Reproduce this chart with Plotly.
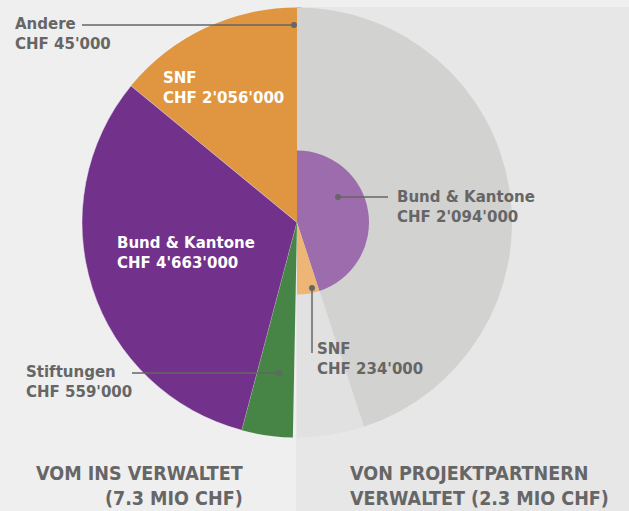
import plotly.graph_objects as go

# canvas
W, H = 629, 511

# left half: managed by INS (CHF)
ins_labels = ["Andere", "SNF", "Bund & Kantone", "Stiftungen"]
ins_values = [45000, 2056000, 4663000, 559000]
ins_colors = ["#ea5c62", "#e09540", "#72318a", "#468545"]

# right half: managed by project partners (CHF)
partner_labels = ["Bund & Kantone", "SNF"]
partner_values = [2094000, 234000]
partner_colors = ["#9c6cac", "#edb677"]
ghost_colors = ["#d2d2d1", "#e1e1e1"]

CLEAR = "rgba(0,0,0,0)"
GREY_TXT = "#666666"


def px(x):
    return x / W


def py(y):
    return 1 - y / H


def fmt_chf(v):
    return "CHF " + f"{v:,}".replace(",", "'")


# pie geometry in pixels (centre + radius)
cx, cy, r_big, r_small = 297, 222.5, 215, 72


def domain(r):
    return dict(x=[px(cx - r), px(cx + r)], y=[py(cy + r), py(cy - r)])


fig = go.Figure()

# 1. left half pie - the other half is an invisible filler slice
ins_total = sum(ins_values)
fig.add_trace(
    go.Pie(
        labels=ins_labels + ["_fill"],
        values=ins_values + [ins_total],
        marker=dict(
            colors=ins_colors + [CLEAR],
            # thin light seam only around the purple slice
            line=dict(color="#efefef", width=[0, 0, 0.5, 0, 0]),
        ),
        direction="counterclockwise",
        rotation=0,
        sort=False,
        textinfo="none",
        hoverinfo="skip",
        domain=domain(r_big),
        showlegend=False,
    )
)

# 2. right half: full size grey ghost of the partner split
partner_total = sum(partner_values)
fig.add_trace(
    go.Pie(
        labels=partner_labels + ["_fill"],
        values=partner_values + [partner_total],
        marker=dict(colors=ghost_colors + [CLEAR], line=dict(width=0)),
        direction="clockwise",
        rotation=0,
        sort=False,
        textinfo="none",
        hoverinfo="skip",
        domain=domain(r_big),
        showlegend=False,
    )
)

# 3. right half: coloured partner pie, scaled down
fig.add_trace(
    go.Pie(
        labels=partner_labels + ["_fill"],
        values=partner_values + [partner_total],
        marker=dict(colors=partner_colors + [CLEAR], line=dict(width=0)),
        direction="clockwise",
        rotation=0,
        sort=False,
        textinfo="none",
        hoverinfo="skip",
        domain=domain(r_small),
        showlegend=False,
    )
)

# right background panel (starts a touch left of the centre so no seam shows)
shapes = [
    dict(
        type="rect", xref="paper", yref="paper",
        x0=px(296), x1=1, y0=0, y1=py(7),
        fillcolor="#e7e7e7", line=dict(width=0), layer="below",
    )
]


def leader(points, dot):
    path = "M " + " L ".join(f"{px(x)},{py(y)}" for x, y in points)
    shapes.append(dict(type="path", xref="paper", yref="paper", path=path,
                       line=dict(color=GREY_TXT, width=1.5)))
    dx, dy = dot
    shapes.append(dict(type="circle", xref="paper", yref="paper",
                       x0=px(dx - 3), x1=px(dx + 3), y0=py(dy + 3), y1=py(dy - 3),
                       fillcolor=GREY_TXT, line=dict(width=0)))


leader([(82, 25), (294, 25)], (294, 25))
leader([(132, 373), (279, 373)], (279, 373))
leader([(338, 197), (388, 197)], (338, 197))
leader([(312, 288), (312, 353)], (312, 288))

annotations = []


def label(text_lines, x, y, color, size=15, align="left", anchor="left", family="DejaVu Sans"):
    annotations.append(dict(
        text="<br>".join(text_lines), x=px(x), y=py(y), xref="paper", yref="paper",
        xanchor=anchor, yanchor="middle", align=align, showarrow=False,
        font=dict(family=family, size=size, color=color, weight="bold"),
    ))


label([ins_labels[0], fmt_chf(ins_values[0])], 13, 34, GREY_TXT)
label([ins_labels[1], fmt_chf(ins_values[1])], 161, 87.5, "white")
label([ins_labels[2], fmt_chf(ins_values[2])], 115, 253, "white")
label([ins_labels[3], fmt_chf(ins_values[3])], 24, 382, GREY_TXT)
label([partner_labels[0], fmt_chf(partner_values[0])], 395, 207, GREY_TXT)
label([partner_labels[1], fmt_chf(partner_values[1])], 315, 358.5, GREY_TXT)

title_font = "DejaVu Sans Condensed, Liberation Sans Narrow, Arial Narrow"
label(["VOM INS VERWALTET", "(7.3 MIO CHF)"], 245, 486, GREY_TXT,
      size=19.5, align="right", anchor="right", family=title_font)
label(["VON PROJEKTPARTNERN", "VERWALTET (2.3 MIO CHF)"], 348, 486, GREY_TXT,
      size=19.5, align="left", anchor="left", family=title_font)

fig.update_layout(
    width=W,
    height=H,
    margin=dict(l=0, r=0, t=0, b=0),
    paper_bgcolor="#efefef",
    plot_bgcolor="#efefef",
    shapes=shapes,
    annotations=annotations,
    showlegend=False,
)

# page body has a default 8px margin, drop it so the chart fills the window
fig.write_html(
    "out.html",
    config={"displayModeBar": False},
    post_script="document.body.style.margin='0';",
)
